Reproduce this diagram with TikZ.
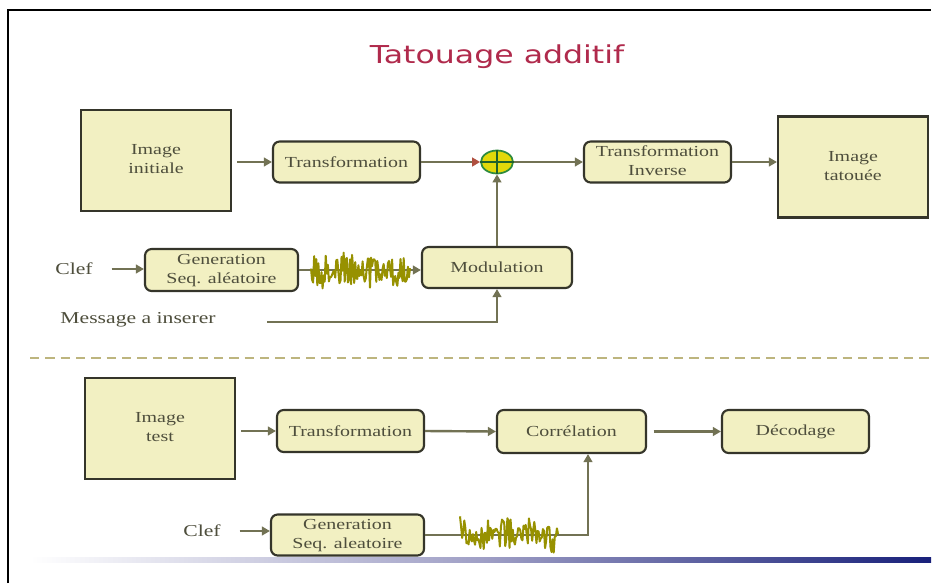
\documentclass[tikz,border=0pt]{standalone}
\usepackage{fontspec}
\setmainfont{Liberation Serif}
\newfontfamily\titlefont{DejaVu Sans}
\usepackage{graphicx}
\usetikzlibrary{arrows.meta,shapes.geometric,calc}

\definecolor{boxfill}{HTML}{F2F0C2}
\definecolor{boxline}{HTML}{35352A}
\definecolor{wire}{HTML}{727254}
\definecolor{ink}{HTML}{4E4E3C}
\definecolor{noisecol}{HTML}{979100}
\definecolor{titlered}{HTML}{B02A4C}
\definecolor{sepline}{HTML}{BDB57E}
\definecolor{addyellow}{HTML}{E2D80A}
\definecolor{addgreen}{HTML}{2E8B3E}
\definecolor{tipred}{HTML}{B05040}
\definecolor{barnavy}{HTML}{18207A}

% horizontally widened text
\newcommand{\wide}[1]{\scalebox{1.3}[1]{#1}}
\newcommand{\twolines}[2]{\wide{\begin{tabular}{@{}c@{}}#1\\#2\end{tabular}}}

\begin{document}
\begin{tikzpicture}[x=0.75pt, y=-0.75pt,
  blockbox/.style={draw=boxline, fill=boxfill, line width=1.6pt, text=ink,
    font=\fontsize{11.5}{14}\selectfont, inner sep=0pt, align=center},
  imgbox/.style={blockbox, minimum width=150*0.75pt, minimum height=101*0.75pt},
  stepbox/.style={blockbox, rounded corners=5pt, minimum width=147*0.75pt, minimum height=41*0.75pt},
  wirearrow/.style={draw=wire, line width=1.8pt, -{Triangle[length=6pt,width=6.5pt]}},
  lbl/.style={text=ink, font=\fontsize{12.5}{15}\selectfont, inner sep=0pt},
  noise/.style={draw=noisecol, line width=1.5pt, line join=round}
]
\useasboundingbox (0,0) rectangle (939,583);
\fill[white] (0,0) rectangle (939,583);

% frame and bottom bar
\draw[black, line width=1.2pt] (8,583) -- (8,10) -- (931,10);
\shade[left color=white, right color=barnavy, middle color=blue!25!gray!60] (30,557) rectangle (931,562);

% title
\node[text=titlered, font=\titlefont\fontsize{18.5}{22}\selectfont, anchor=base, inner sep=0pt] (title) at (497,63) {\scalebox{1.28}[1]{Tatouage additif}};

% ---------- insertion chain ----------
\node[imgbox] (imgA) at (156,160.5) {\twolines{Image}{initiale}};
\node[stepbox] (trA) at (346.5,162) {\wide{Transformation}};
\node[ellipse, draw=addgreen, fill=addyellow, line width=1.3pt,
      minimum width=32*0.75pt, minimum height=23*0.75pt, inner sep=0pt] (add) at (497,162) {};
\draw[addgreen!70!black, line width=1pt] (add.north) -- (add.south) (add.west) -- (add.east);
\node[stepbox] (inv) at (657.5,162) {\twolines{Transformation}{Inverse}};
\node[imgbox] (imgW) at (853,167) {\twolines{Image}{tatouée}};

\node[stepbox, minimum width=153*0.75pt, minimum height=42*0.75pt] (gen1) at (221.5,270) {\twolines{Generation}{Seq. aléatoire}};
\node[stepbox, minimum width=150*0.75pt] (mod) at (497,267.5) {\wide{Modulation}};
\node[lbl] (clef1) at (74,269) {\wide{Clef}};
\node[lbl] (msg) at (138,320) {\wide{Message a inserer}};
\coordinate (msgstart) at (267,322);

\draw[wirearrow, shorten <=4pt] (imgA.east |- trA.west) -- (trA.west);
\draw[wirearrow, -{Triangle[length=6pt,width=6.5pt,color=tipred]}] (trA.east) -- (add.west);
\draw[wirearrow] (add.east) -- (inv.west);
\draw[wirearrow] (inv.east) -- (inv.east -| imgW.west);
\draw[wirearrow, shorten <=14pt] (clef1.east) -- (gen1.west |- clef1.east);
\draw[wirearrow] (gen1.east) -- (gen1.east -| mod.west);
\draw[wirearrow] (mod.north) -- (add.south);
\draw[wirearrow] (msgstart) -- (msgstart -| mod.south) -- (mod.south);

% spreading sequence
\pgfmathsetseed{12}
\draw[noise] plot[domain=311:410, samples=95] (\x, {270 + (7+12*abs(sin(\x*7)))*(2*rnd-1)});

% separator
\draw[sepline, line width=1.3pt, dash pattern=on 7pt off 4.5pt] (30,358) -- (931,358);

% ---------- detection chain ----------
\node[imgbox] (imgT) at (160,428.5) {\twolines{Image}{test}};
\node[stepbox, minimum height=42*0.75pt] (trB) at (350.5,431) {\wide{Transformation}};
\node[stepbox, minimum width=149*0.75pt, minimum height=43*0.75pt] (cor) at (571.5,431.5) {\wide{Corrélation}};
\node[stepbox, minimum height=43*0.75pt] (dec) at (795.5,431.5) {\wide{Décodage}};
\node[stepbox, minimum width=153*0.75pt] (gen2) at (347.5,535) {\twolines{Generation}{Seq. aleatoire}};
\node[lbl] (clef2) at (202,531) {\wide{Clef}};
\coordinate (corin) at (588,535);

\draw[wirearrow, shorten <=4pt] (imgT.east |- trB.west) -- (trB.west);
\draw[wirearrow] (trB.east) -- (cor.west);
\draw[wirearrow, shorten <=5pt] (cor.east) -- (dec.west);
\draw[wirearrow, shorten <=14pt] (clef2.east) -- (gen2.west |- clef2.east);
\draw[wirearrow] (gen2.east) -- (corin) -- (corin |- cor.south);

\pgfmathsetseed{31}
\draw[noise] plot[domain=460:558, samples=92] (\x, {535 + (7+12*abs(sin(\x*8)))*(2*rnd-1)});
\end{tikzpicture}
\end{document}
